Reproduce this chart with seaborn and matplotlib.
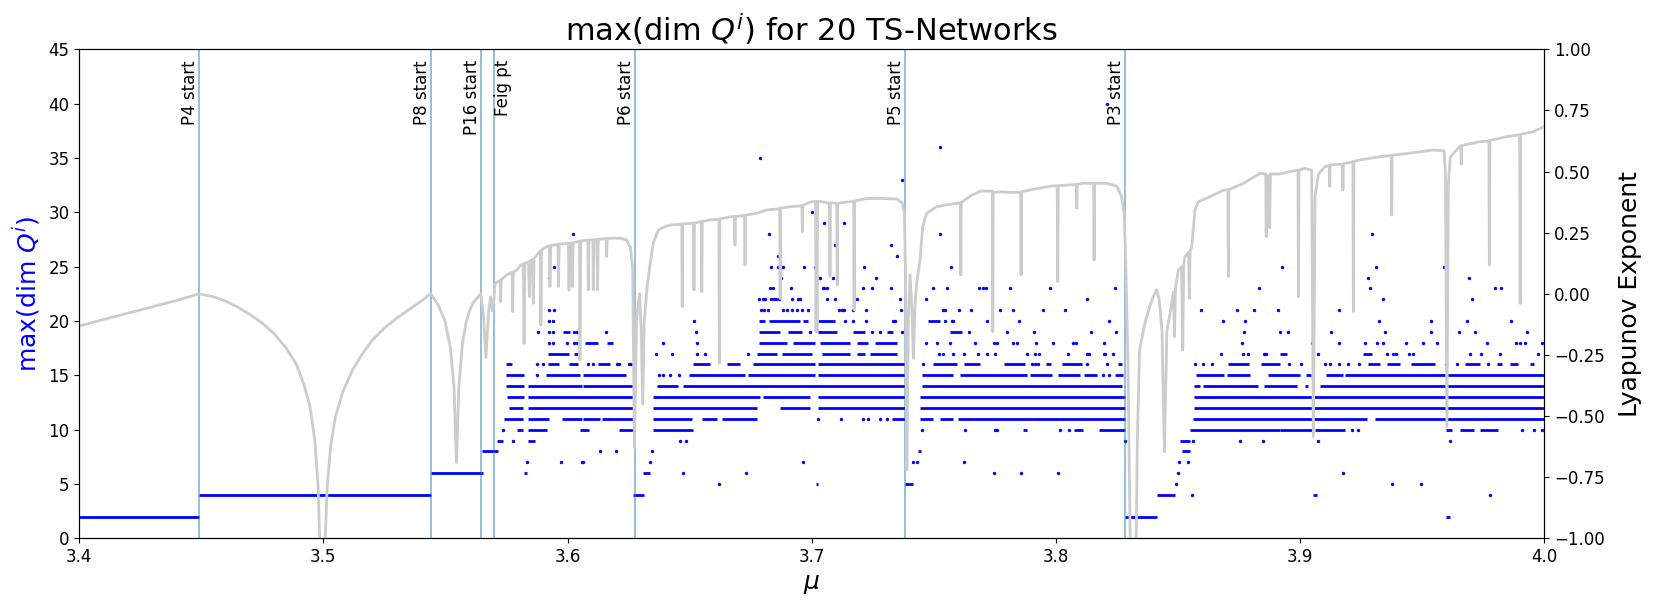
import matplotlib
matplotlib.use("Agg")
import matplotlib.pyplot as plt
import seaborn as sns
import numpy as np
import pandas as pd

# vertical markers (mu, label)
mark_mu = [3.449, 3.544, 3.5644, 3.5699, 3.6275, 3.7382, 3.8284]
mark_lab = ['P4 start', 'P8 start', 'P16 start', 'Feig pt', 'P6 start', 'P5 start', 'P3 start']

# lyapunov exponent
lyap_mu = [3.4000, 3.4100, 3.4200, 3.4300, 3.4400, 3.4490, 3.4550, 3.4600, 3.4650, 3.4700,
           3.4750, 3.4800, 3.4850, 3.4890, 3.4920, 3.4945, 3.4965, 3.4978, 3.4988, 3.5004,
           3.5015, 3.5030, 3.5050, 3.5080, 3.5120, 3.5160, 3.5200, 3.5250, 3.5300, 3.5350,
           3.5400, 3.5440, 3.5470, 3.5498, 3.5520, 3.5535, 3.5545, 3.5555, 3.5570, 3.5585,
           3.5600, 3.5615, 3.5644, 3.5655, 3.5666, 3.5677, 3.5685, 3.5693, 3.5699, 3.5703,
           3.5715, 3.5724, 3.5726, 3.5729, 3.5740, 3.5751, 3.5765, 3.5773, 3.5775, 3.5778,
           3.5792, 3.5808, 3.5819, 3.5822, 3.5825, 3.5840, 3.5844, 3.5848, 3.5857, 3.5860,
           3.5863, 3.5880, 3.5889, 3.5891, 3.5894, 3.5915, 3.5926, 3.5928, 3.5931, 3.5950,
           3.5961, 3.5963, 3.5966, 3.5985, 3.6004, 3.6006, 3.6009, 3.6018, 3.6020, 3.6023,
           3.6035, 3.6049, 3.6051, 3.6054, 3.6070, 3.6083, 3.6085, 3.6088, 3.6104, 3.6106,
           3.6109, 3.6121, 3.6123, 3.6126, 3.6145, 3.6158, 3.6160, 3.6163, 3.6190, 3.6220,
           3.6242, 3.6258, 3.6267, 3.6274, 3.6283, 3.6295, 3.6302, 3.6308, 3.6314, 3.6325,
           3.6338, 3.6352, 3.6372, 3.6400, 3.6420, 3.6440, 3.6468, 3.6470, 3.6472, 3.6502,
           3.6516, 3.6518, 3.6520, 3.6540, 3.6548, 3.6550, 3.6552, 3.6584, 3.6618, 3.6620,
           3.6622, 3.6624, 3.6638, 3.6666, 3.6684, 3.6686, 3.6688, 3.6707, 3.6725, 3.6727,
           3.6729, 3.6775, 3.6816, 3.6869, 3.6871, 3.6873, 3.6912, 3.6960, 3.6962, 3.6964,
           3.7000, 3.7016, 3.7018, 3.7020, 3.7022, 3.7024, 3.7041, 3.7073, 3.7075, 3.7077,
           3.7103, 3.7105, 3.7107, 3.7140, 3.7172, 3.7174, 3.7176, 3.7226, 3.7280, 3.7349,
           3.7372, 3.7380, 3.7384, 3.7390, 3.7396, 3.7403, 3.7410, 3.7417, 3.7423, 3.7430,
           3.7444, 3.7455, 3.7471, 3.7512, 3.7560, 3.7609, 3.7611, 3.7613, 3.7650, 3.7690,
           3.7740, 3.7742, 3.7744, 3.7772, 3.7813, 3.7856, 3.7858, 3.7860, 3.7895, 3.7977,
           3.8006, 3.8008, 3.8010, 3.8050, 3.8084, 3.8086, 3.8088, 3.8113, 3.8155, 3.8157,
           3.8159, 3.8209, 3.8250, 3.8270, 3.8280, 3.8286, 3.8295, 3.8306, 3.8328, 3.8334,
           3.8343, 3.8365, 3.8385, 3.8401, 3.8413, 3.8424, 3.8435, 3.8445, 3.8455, 3.8466,
           3.8482, 3.8486, 3.8490, 3.8502, 3.8515, 3.8520, 3.8524, 3.8529, 3.8544, 3.8547,
           3.8550, 3.8557, 3.8570, 3.8584, 3.8632, 3.8687, 3.8705, 3.8707, 3.8709, 3.8769,
           3.8837, 3.8860, 3.8862, 3.8864, 3.8873, 3.8876, 3.8879, 3.8919, 3.8960, 3.8992,
           3.8994, 3.8996, 3.9021, 3.9048, 3.9055, 3.9062, 3.9076, 3.9103, 3.9120, 3.9122,
           3.9124, 3.9174, 3.9176, 3.9178, 3.9217, 3.9219, 3.9221, 3.9244, 3.9329, 3.9374,
           3.9376, 3.9378, 3.9441, 3.9545, 3.9590, 3.9596, 3.9602, 3.9608, 3.9616, 3.9654,
           3.9659, 3.9661, 3.9663, 3.9736, 3.9774, 3.9776, 3.9778, 3.9848, 3.9900, 3.9902,
           3.9904, 3.9957, 4.0000]
lyap_val = [-0.132, -0.105, -0.079, -0.053, -0.027, 0.000, -0.012, -0.030, -0.055, -0.085,
            -0.120, -0.165, -0.225, -0.290, -0.370, -0.460, -0.600, -0.780, -1.100, -1.100,
            -0.800, -0.620, -0.500, -0.400, -0.310, -0.245, -0.190, -0.140, -0.100, -0.065,
            -0.030, 0.000, -0.045, -0.110, -0.220, -0.380, -0.690, -0.380, -0.200, -0.115,
            -0.066, -0.035, 0.000, -0.080, -0.260, -0.070, -0.012, -0.070, -0.020, 0.043,
            0.050, 0.056, -0.032, 0.058, 0.068, 0.077, 0.085, 0.088, -0.073, 0.090,
            0.097, 0.118, 0.122, -0.203, 0.125, 0.131, -0.012, 0.135, 0.140, -0.039,
            0.145, 0.165, 0.175, -0.128, 0.180, 0.193, 0.195, 0.029, 0.198, 0.200,
            0.202, 0.029, 0.203, 0.205, 0.206, 0.016, 0.207, 0.208, 0.029, 0.209,
            0.212, 0.215, -0.271, 0.216, 0.218, 0.219, 0.016, 0.220, 0.220, 0.016,
            0.221, 0.222, 0.016, 0.223, 0.225, 0.226, 0.152, 0.226, 0.228, 0.227,
            0.220, 0.190, 0.100, -0.630, -0.100, 0.000, -0.150, -0.450, -0.120, 0.020,
            0.120, 0.210, 0.261, 0.275, 0.281, 0.283, 0.285, -0.053, 0.286, 0.288,
            0.289, 0.016, 0.290, 0.294, 0.295, 0.009, 0.296, 0.302, 0.305, 0.305,
            -0.284, 0.306, 0.309, 0.315, 0.316, 0.200, 0.317, 0.318, 0.320, 0.118,
            0.322, 0.329, 0.343, 0.348, -0.019, 0.350, 0.356, 0.360, 0.254, 0.362,
            0.377, 0.378, -0.155, 0.250, -0.155, 0.378, 0.377, 0.370, 0.070, 0.372,
            0.370, 0.036, 0.370, 0.375, 0.378, -0.066, 0.380, 0.390, 0.390, 0.388,
            0.370, 0.330, 0.100, -0.721, -0.100, 0.077, -0.050, -0.264, -0.050, 0.043,
            0.138, 0.275, 0.329, 0.356, 0.365, 0.372, 0.077, 0.374, 0.400, 0.420,
            0.420, -0.155, 0.415, 0.417, 0.415, 0.415, 0.077, 0.418, 0.425, 0.440,
            0.442, 0.050, 0.442, 0.445, 0.447, 0.350, 0.448, 0.452, 0.452, 0.138,
            0.452, 0.452, 0.440, 0.395, 0.330, 0.150, -0.250, -1.100, -1.100, -0.600,
            -0.231, -0.120, -0.050, -0.008, 0.016, -0.025, -0.150, -0.646, -0.150, -0.094,
            0.009, -0.175, 0.020, 0.097, 0.110, -0.230, 0.120, 0.152, 0.170, -0.019,
            0.175, 0.193, 0.343, 0.377, 0.397, 0.424, 0.425, 0.070, 0.426, 0.452,
            0.493, 0.490, 0.234, 0.480, 0.485, 0.270, 0.490, 0.490, 0.500, 0.506,
            -0.012, 0.506, 0.513, 0.505, -0.584, 0.400, 0.490, 0.520, 0.525, 0.440,
            0.527, 0.530, 0.424, 0.532, 0.540, -0.073, 0.542, 0.547, 0.561, 0.565,
            0.322, 0.567, 0.574, 0.588, 0.585, 0.500, -0.543, 0.450, 0.560, 0.602,
            0.604, 0.530, 0.606, 0.622, 0.625, 0.118, 0.627, 0.643, 0.650, -0.039,
            0.652, 0.663, 0.684]

# dense runs of max(dim Q^i): (level, mu from, mu to)
band_segments = [
    (2, 3.400, 3.449), (2, 3.8284, 3.8414), (2, 3.9599, 3.9615),
    (4, 3.449, 3.544), (4, 3.6267, 3.6313), (4, 3.8414, 3.8489), (4, 3.9053, 3.9069),
    (5, 3.7383, 3.7417), (5, 3.7018, 3.7028),
    (6, 3.544, 3.5655), (6, 3.5823, 3.5833), (6, 3.6311, 3.6338),
    (8, 3.5648, 3.5714), (8, 3.7437, 3.7447), (8, 3.8516, 3.8550),
    (9, 3.5710, 3.5737), (9, 3.5840, 3.5867), (9, 3.8509, 3.8550),
    (10, 3.5792, 3.5819), (10, 3.5840, 3.5918), (10, 3.6051, 3.6089), (10, 3.6212, 3.6267),
    (10, 3.6349, 3.6516), (10, 3.7867, 3.7881), (10, 3.8076, 3.8113), (10, 3.8175, 3.8284),
    (10, 3.8548, 3.8919), (10, 3.8919, 3.9055), (10, 3.9062, 3.9185), (10, 3.9598, 3.9622),
    (10, 3.9656, 3.9711), (10, 3.9738, 3.9813),
    (11, 3.5741, 3.5819), (11, 3.5840, 3.5924), (11, 3.5976, 3.6058), (11, 3.6065, 3.6133),
    (11, 3.6140, 3.6267), (11, 3.6349, 3.6509), (11, 3.6550, 3.6611), (11, 3.6632, 3.6775),
    (11, 3.7328, 3.7383), (11, 3.7444, 3.7499), (11, 3.7526, 3.7581), (11, 3.7601, 3.8284),
    (11, 3.8564, 3.9274), (11, 3.9308, 4.0),
    (12, 3.5760, 3.5819), (12, 3.5840, 3.6267), (12, 3.6349, 3.6778), (12, 3.6871, 3.6994),
    (12, 3.7028, 3.7383), (12, 3.7444, 3.8284), (12, 3.8568, 4.0),
    (13, 3.5754, 3.5822), (13, 3.5840, 3.6267), (13, 3.6349, 3.6789), (13, 3.6802, 3.6994),
    (13, 3.7028, 3.7383), (13, 3.7444, 3.8284), (13, 3.8568, 4.0),
    (14, 3.5748, 3.5822), (14, 3.5840, 3.6058), (14, 3.6065, 3.6267), (14, 3.6365, 3.6454),
    (14, 3.6475, 3.7383), (14, 3.7451, 3.8270), (14, 3.8568, 3.8591), (14, 3.8605, 3.8830),
    (14, 3.8851, 3.8987), (14, 3.9021, 3.9035), (14, 3.9083, 4.0),
    (15, 3.5748, 3.5822), (15, 3.5912, 3.6051), (15, 3.6065, 3.6240), (15, 3.6499, 3.6727),
    (15, 3.6741, 3.7014), (15, 3.7028, 3.7383), (15, 3.7451, 3.7581), (15, 3.7608, 3.7881),
    (15, 3.7895, 3.7984), (15, 3.8011, 3.8100), (15, 3.8116, 3.8168), (15, 3.8243, 3.8277),
    (15, 3.8575, 3.8687), (15, 3.8701, 3.8796), (15, 3.8871, 3.9001), (15, 3.9025, 3.9044),
    (15, 3.9107, 3.9178), (15, 3.9185, 4.0),
    (16, 3.5748, 3.5774), (16, 3.5922, 3.5967), (16, 3.6008, 3.6042), (16, 3.6126, 3.6174),
    (16, 3.6516, 3.6584), (16, 3.6655, 3.6707), (16, 3.6761, 3.7014), (16, 3.7028, 3.7383),
    (16, 3.7496, 3.7594), (16, 3.7624, 3.7690), (16, 3.7786, 3.7874), (16, 3.7960, 3.7979),
    (16, 3.8024, 3.8106), (16, 3.8253, 3.8270), (16, 3.8707, 3.8793), (16, 3.8840, 3.8919),
    (16, 3.9277, 3.9329), (16, 3.9356, 3.9411), (16, 3.9456, 3.9554), (16, 3.9677, 3.9738),
    (16, 3.9807, 3.9827), (16, 3.9861, 3.9893), (16, 3.9943, 3.9957),
    (17, 3.5922, 3.6008), (17, 3.6027, 3.6042), (17, 3.6775, 3.6860), (17, 3.6880, 3.7000),
    (17, 3.7041, 3.7157), (17, 3.7185, 3.7219), (17, 3.7239, 3.7349), (17, 3.9260, 3.9294),
    (17, 3.8919, 3.8946),
    (18, 3.6072, 3.6126), (18, 3.6163, 3.6185), (18, 3.6786, 3.6898), (18, 3.6925, 3.7014),
    (18, 3.7034, 3.7157), (18, 3.7185, 3.7232), (18, 3.7260, 3.7349),
    (19, 3.5980, 3.6010), (19, 3.6786, 3.6871), (19, 3.6902, 3.6959), (19, 3.7028, 3.7103),
    (19, 3.7168, 3.7219), (19, 3.7308, 3.7335), (19, 3.7567, 3.7615),
    (20, 3.6786, 3.6809), (20, 3.6827, 3.6952), (20, 3.6966, 3.6987), (20, 3.7028, 3.7096),
    (20, 3.7478, 3.7526),
]

# isolated points: (level, [mu, ...])
dots_by_level = [
    (4, [3.8557, 3.9777]),
    (5, [3.6622, 3.8493, 3.9376, 3.9495]),
    (6, [3.6472, 3.6730, 3.7745, 3.7858, 3.8008, 3.8500, 3.9178]),
    (7, [3.5836, 3.5973, 3.6058, 3.6062, 3.6338, 3.6963, 3.7417, 3.7433, 3.7622, 3.8505, 3.8541]),
    (8, [3.6133, 3.6197, 3.6345]),
    (9, [3.5775, 3.6461, 3.6486, 3.8284, 3.8564, 3.8755, 3.8847, 3.9073, 3.9615]),
    (10, [3.5737, 3.7451, 3.7629, 3.7751, 3.7758, 3.8018, 3.8056, 3.9212, 3.9236, 3.9909,
          3.9957, 3.9991]),
    (11, [3.7028, 3.7119, 3.7209, 3.7230, 3.7280, 3.7308]),
    (15, [3.5874, 3.6376, 3.6390, 3.6420, 3.6458, 3.8195, 3.8216]),
    (16, [3.5874, 3.5898, 3.6085, 3.6106, 3.6201, 3.6212, 3.6253, 3.6260, 3.7455, 3.7902,
          3.7915, 3.7929, 3.8127, 3.8209, 3.8571, 3.8602, 3.8639, 3.8957, 3.9004, 3.9103,
          3.9124, 3.9158, 3.9195, 3.9244, 3.9598, 3.9643, 3.9772]),
    (17, [3.6363, 3.6427, 3.6529, 3.6563, 3.6741, 3.7523, 3.7540, 3.7581, 3.7624, 3.7683,
          3.7717, 3.7751, 3.7881, 3.7915, 3.7933, 3.8049, 3.8127, 3.8138, 3.8199, 3.8202,
          3.8233, 3.8676, 3.8766, 3.8789, 3.8851, 3.8862, 3.9076, 3.9356, 3.9383, 3.9394,
          3.9445, 3.9465, 3.9695, 3.9741, 3.9820, 3.9977]),
    (18, [3.5926, 3.5939, 3.5997, 3.6027, 3.6038, 3.6393, 3.6532, 3.7469, 3.7512, 3.7567,
          3.7669, 3.7745, 3.7758, 3.7824, 3.7840, 3.7919, 3.7990, 3.8072, 3.8082, 3.8199,
          3.8762, 3.9051, 3.9158, 3.9267, 3.9315, 3.9340, 3.9435, 3.9506, 3.9561, 3.9766,
          3.9886, 3.9900, 3.9923, 3.9991]),
    (19, [3.5878, 3.5926, 3.5939, 3.6027, 3.6038, 3.6158, 3.6526, 3.6993, 3.7246, 3.7278,
          3.7372, 3.7646, 3.7799, 3.7911, 3.8145, 3.8247, 3.8769, 3.8919, 3.8953, 3.9128,
          3.9349, 3.9537, 3.9652, 3.9718, 3.9932]),
    (20, [3.5926, 3.5939, 3.6518, 3.7137, 3.7171, 3.7223, 3.7335, 3.7342, 3.7547, 3.7574,
          3.7581, 3.7717, 3.7851, 3.8216, 3.8684, 3.8776, 3.9322, 3.9537, 3.9686, 3.9865]),
    (21, [3.5926, 3.5945, 3.6791, 3.6805, 3.6820, 3.6882, 3.6900, 3.6920, 3.6940, 3.6960,
          3.6987, 3.7110, 3.7125, 3.7133, 3.7168, 3.7223, 3.7366, 3.7540, 3.7547, 3.7605,
          3.7653, 3.7772, 3.7824, 3.7947, 3.8038, 3.8594, 3.8741, 3.8810, 3.8912, 3.9159]),
    (22, [3.6786, 3.6800, 3.6809, 3.6834, 3.6845, 3.6854, 3.6868, 3.6918, 3.6946, 3.6952,
          3.7064, 3.7096, 3.7185, 3.7360, 3.7467, 3.8127, 3.9340, 3.9704]),
    (23, [3.6830, 3.6841, 3.6914, 3.7045, 3.7052, 3.7062, 3.7209, 3.7246, 3.7324, 3.7496,
          3.7556, 3.7687, 3.7700, 3.7714, 3.7813, 3.7977, 3.8243, 3.8834, 3.9285, 3.9801,
          3.9824]),
    (24, [3.5926, 3.6873, 3.7034, 3.7089, 3.7264, 3.9278, 3.9693]),
    (25, [3.5945, 3.6832, 3.6861, 3.6870, 3.6882, 3.6970, 3.7013, 3.7216, 3.7570, 3.8926,
          3.9311, 3.9591]),
    (26, [3.6861, 3.7349]),
    (27, [3.7096, 3.7324]),
    (28, [3.6021, 3.6826, 3.7526, 3.9297]),
    (29, [3.7052, 3.7133]),
    (30, [3.7000]),
    (33, [3.7372]),
    (35, [3.6789]),
    (36, [3.7526]),
    (40, [3.8211]),
]

dots = pd.DataFrame([(m, lv) for lv, ms in dots_by_level for m in ms], columns=['mu', 'dim'])
lyap = pd.DataFrame({'mu': lyap_mu, 'lyap': lyap_val})
seg = pd.DataFrame(band_segments, columns=['dim', 'lo', 'hi'])

fig, ax1 = plt.subplots(figsize=(16.61, 6.10), dpi=100)
fig.subplots_adjust(left=0.0477, right=0.9296, top=0.9192, bottom=0.1175)

ax1.hlines(seg['dim'], seg['lo'], seg['hi'], color='blue', lw=2.0)
sns.scatterplot(data=dots, x='mu', y='dim', ax=ax1, color='blue', s=6, linewidth=0)

for m, lab in zip(mark_mu, mark_lab):
    ax1.axvline(m, color='#1f77b4', alpha=0.55, lw=1.2)
    ha = 'left' if lab == 'Feig pt' else 'right'
    ax1.text(m, 44, lab, rotation=90, ha=ha, va='top', fontsize=12)

ax1.set_xlim(3.4, 4.0)
ax1.set_ylim(0, 45)
ax1.set_yticks(np.arange(0, 46, 5))
ax1.set_xlabel(r'$\mu$', fontsize=18)
ax1.set_ylabel(r'max(dim $Q^i$)', color='blue', fontsize=18)
ax1.tick_params(labelsize=12)
ax1.set_title(r'max(dim $Q^i$) for 20 TS-Networks', fontsize=22)

ax2 = ax1.twinx()
sns.lineplot(data=lyap, x='mu', y='lyap', ax=ax2, color='#cccccc', lw=2.0,
             estimator=None, sort=False)
ax2.set_ylim(-1, 1)
ax2.set_yticks(np.arange(-1, 1.01, 0.25))
ax2.set_ylabel('Lyapunov Exponent', fontsize=18, labelpad=10)
ax2.tick_params(labelsize=12)
ax1.set_xlim(3.4, 4.0)

fig.savefig('out.png', dpi=100)
